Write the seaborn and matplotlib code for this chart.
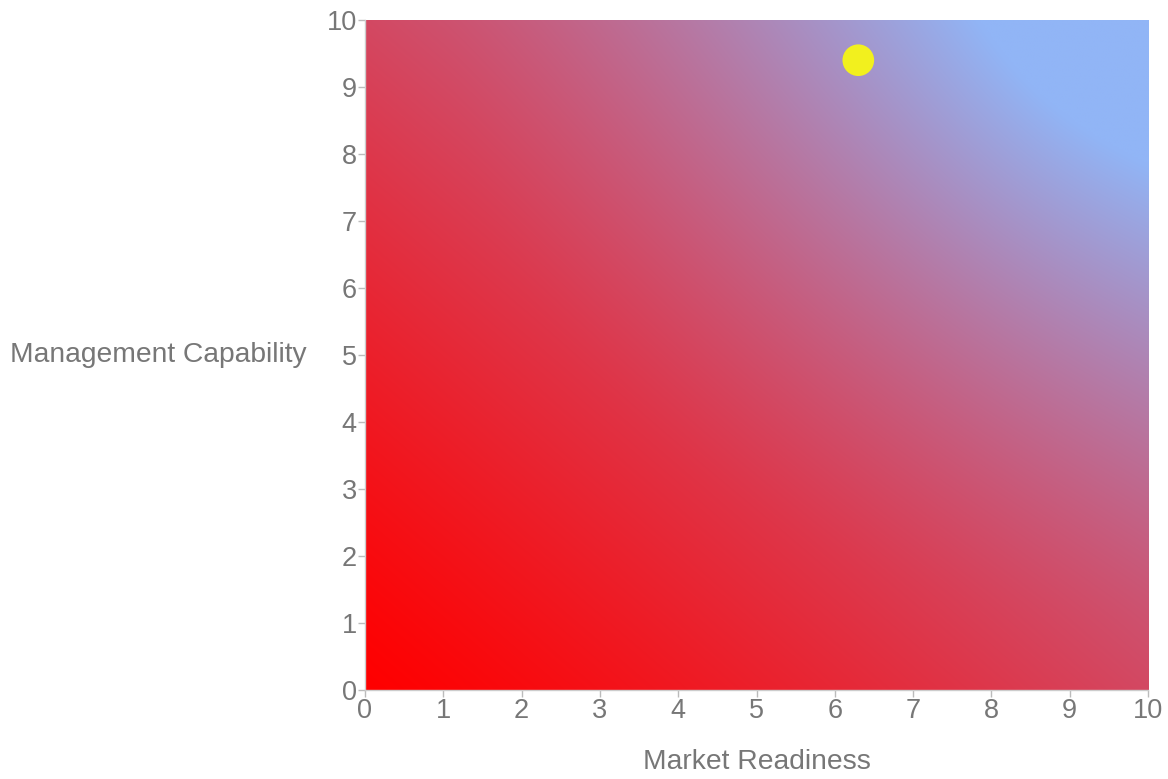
import numpy as np
import pandas as pd
import seaborn as sns
import matplotlib.pyplot as plt

# data
market_readiness = [6.3]
management_capability = [9.4]
ticks = list(range(0, 11))

# gradient end colours (bottom-left -> top-right)
low_color = np.array([255, 0, 0]) / 255
high_color = np.array([145, 181, 246]) / 255

sns.set_theme(style="white")
plt.rcParams['font.family'] = ['Liberation Sans', 'DejaVu Sans']
text_grey = '#777777'

fig = plt.figure(figsize=(11.68, 7.79), dpi=100)
ax = fig.add_axes([0.3125, 0.1142, 0.6704, 0.8601])

# background gradient: diagonal blend plus a soft blue glow in the top-right
n = 400
u, v = np.meshgrid(np.linspace(0, 1, n), np.linspace(0, 1, n))
s = (u + v) / 2
d = np.hypot(1 - u, 1 - v)
t = 0.4 * (2 * s) ** 1.2 + 0.3 * np.clip(1 - d / 0.9, 0, 1) ** 1.5
t = np.clip(t, 0, 1)[..., None]
img = low_color * (1 - t) + high_color * t
ax.imshow(img, origin='lower', extent=[0, 10, 0, 10], aspect='auto',
          interpolation='bilinear', zorder=0)

df = pd.DataFrame({'Market Readiness': market_readiness,
                   'Management Capability': management_capability})
sns.scatterplot(data=df, x='Market Readiness', y='Management Capability',
                ax=ax, color='#f2f01e', s=520, edgecolor='none', zorder=3)

ax.set_xlim(0, 10)
ax.set_ylim(0, 10)
ax.set_xticks(ticks)
ax.set_yticks(ticks)
ax.tick_params(axis='both', length=5, width=1, color='#bbbbbb',
               labelcolor=text_grey, labelsize=19.5, pad=1, direction='out',
               bottom=True, left=True)
for side in ['top', 'right']:
    ax.spines[side].set_visible(False)
for side in ['left', 'bottom']:
    ax.spines[side].set_color('#cccccc')
    ax.spines[side].set_linewidth(1)

ax.set_xlabel('Market Readiness', fontsize=20.3, color=text_grey, labelpad=18)
ax.set_ylabel('Management Capability', fontsize=20.3, color=text_grey,
              rotation=0, ha='right', va='center', labelpad=14)

fig.savefig('out.png', dpi=100)
